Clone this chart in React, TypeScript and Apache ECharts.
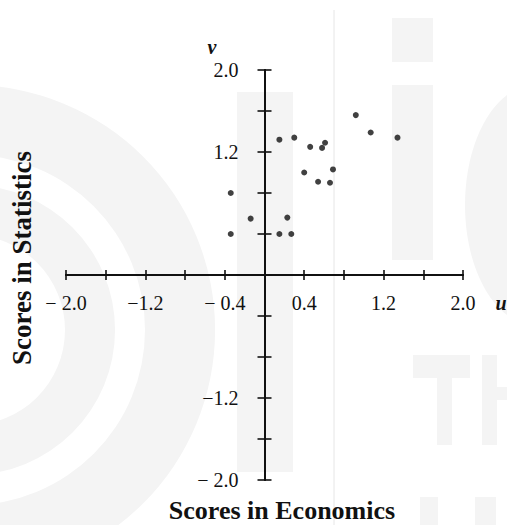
import React, { useEffect, useRef } from "react";
import * as echarts from "echarts";

// Scores in Economics (u) and Scores in Statistics (v)
const economics = [-0.34, -0.34, -0.14, 0.15, 0.27, 0.23, 0.15, 0.3, 0.46, 0.58, 0.61, 0.4, 0.54, 0.66, 0.69, 0.92, 1.07, 1.34];
const statistics = [0.8, 0.4, 0.55, 0.4, 0.4, 0.56, 1.32, 1.34, 1.25, 1.24, 1.29, 1.0, 0.91, 0.9, 1.03, 1.56, 1.39, 1.34];

const xTickLabels: Record<string, string> = {
  "-2": "\u2212 2.0",
  "-1.2": "\u22121.2",
  "-0.4": "\u2212 0.4",
  "0.4": "0.4",
  "1.2": "1.2",
  "2": "2.0",
};
const yTickLabels: Record<string, string> = {
  "2": "2.0",
  "1.2": "1.2",
  "-1.2": "\u22121.2",
  "-2": "\u2212 2.0",
};

const FONT = "'Liberation Serif', 'DejaVu Serif', serif";

const GRID = { left: 66, right: 44, top: 70, bottom: 45 };
const W = 507;
const H = 525;
const WM = "#f4f4f4";

function keyOf(v: number) {
  return String(Math.round(v * 10) / 10);
}

export default function App() {
  const ref = useRef<HTMLDivElement>(null);
  useEffect(() => {
    if (!ref.current) return;
    const chart = echarts.init(ref.current, undefined, { renderer: "svg" });
    const gw = W - GRID.left - GRID.right;
    const gh = H - GRID.top - GRID.bottom;
    const axisLine = { onZero: false, lineStyle: { color: "#111", width: 2 } };
    const tickStyle = { color: "#111", width: 1.6 };
    const xBase = {
      type: "value" as const,
      min: -2,
      max: 2,
      interval: 0.4,
      position: "bottom" as const,
      offset: -gh / 2,
      splitLine: { show: false },
      axisLine,
    };
    const yBase = {
      type: "value" as const,
      min: -2,
      max: 2,
      interval: 0.4,
      position: "left" as const,
      offset: -gw / 2,
      splitLine: { show: false },
      axisLine,
    };
    const halfRing = (r0: number, r: number) => ({
      type: "sector",
      z: -10,
      silent: true,
      shape: { cx: -30, cy: 330, r0, r, startAngle: -Math.PI / 2, endAngle: Math.PI / 2 },
      style: { fill: WM },
    });
    const wmRect = (x: number, y: number, width: number, height: number) => ({
      type: "rect",
      z: -10,
      silent: true,
      shape: { x, y, width, height },
      style: { fill: WM },
    });
    chart.setOption({
      animation: false,
      backgroundColor: "#ffffff",
      grid: GRID,
      xAxis: [
        {
          ...xBase,
          axisTick: { show: true, inside: false, length: 5, lineStyle: tickStyle },
          axisLabel: {
            show: true,
            margin: 18,
            fontFamily: FONT,
            fontSize: 20,
            color: "#111",
            formatter: (v: number) => xTickLabels[keyOf(v)] ?? "",
          },
        },
        {
          ...xBase,
          axisTick: { show: true, inside: true, length: 5, lineStyle: tickStyle },
          axisLabel: { show: false },
        },
      ],
      yAxis: [
        {
          ...yBase,
          axisTick: { show: true, inside: false, length: 7, lineStyle: tickStyle },
          axisLabel: {
            show: true,
            margin: 26,
            fontFamily: FONT,
            fontSize: 20,
            color: "#111",
            padding: [8, 0, 0, 0],
            formatter: (v: number) => yTickLabels[keyOf(v)] ?? "",
          },
        },
        {
          ...yBase,
          axisTick: { show: true, inside: true, length: 7, lineStyle: tickStyle },
          axisLabel: { show: false },
        },
      ],
      series: [
        {
          type: "scatter",
          xAxisIndex: 0,
          yAxisIndex: 0,
          symbol: "circle",
          symbolSize: 6,
          itemStyle: { color: "#111" },
          data: economics.map((x, i) => [x, statistics[i]]),
        },
      ],
      graphic: [
        halfRing(95, 145),
        halfRing(175, 245),
        wmRect(237, 92, 56, 380),
        wmRect(392, 18, 41, 44),
        wmRect(392, 85, 41, 175),
        {
          type: "ellipse",
          z: -10,
          silent: true,
          shape: { cx: 535, cy: 205, rx: 70, ry: 120 },
          style: { fill: WM },
        },
        wmRect(413, 355, 57, 23),
        wmRect(437, 378, 15, 67),
        wmRect(482, 355, 15, 90),
        wmRect(497, 387, 10, 13),
        wmRect(420, 497, 18, 28),
        wmRect(475, 497, 21, 28),
        {
          type: "line",
          z: -9,
          silent: true,
          shape: { x1: 334, y1: 10, x2: 334, y2: 525 },
          style: { stroke: "#e6e6e6", lineWidth: 1 },
        },
        {
          type: "text",
          x: 212,
          y: 47,
          style: {
            text: "v",
            font: `italic bold 20px ${FONT}`,
            fill: "#111",
            align: "center",
            verticalAlign: "middle",
          },
        },
        {
          type: "text",
          x: 501,
          y: 303,
          style: {
            text: "u",
            font: `italic bold 20px ${FONT}`,
            fill: "#111",
            align: "center",
            verticalAlign: "middle",
          },
        },
        {
          type: "text",
          x: 22,
          y: 258,
          rotation: Math.PI / 2,
          style: {
            text: "Scores in Statistics",
            font: `bold 27px ${FONT}`,
            fill: "#111",
            align: "center",
            verticalAlign: "middle",
          },
        },
        {
          type: "text",
          x: 282,
          y: 510,
          style: {
            text: "Scores in Economics",
            font: `bold 26px ${FONT}`,
            fill: "#111",
            align: "center",
            verticalAlign: "middle",
          },
        },
      ],
    });
    return () => chart.dispose();
  }, []);
  return (
    <div
      ref={ref}
      style={{ position: "fixed", left: 0, top: 0, width: W, height: H }}
    />
  );
}
